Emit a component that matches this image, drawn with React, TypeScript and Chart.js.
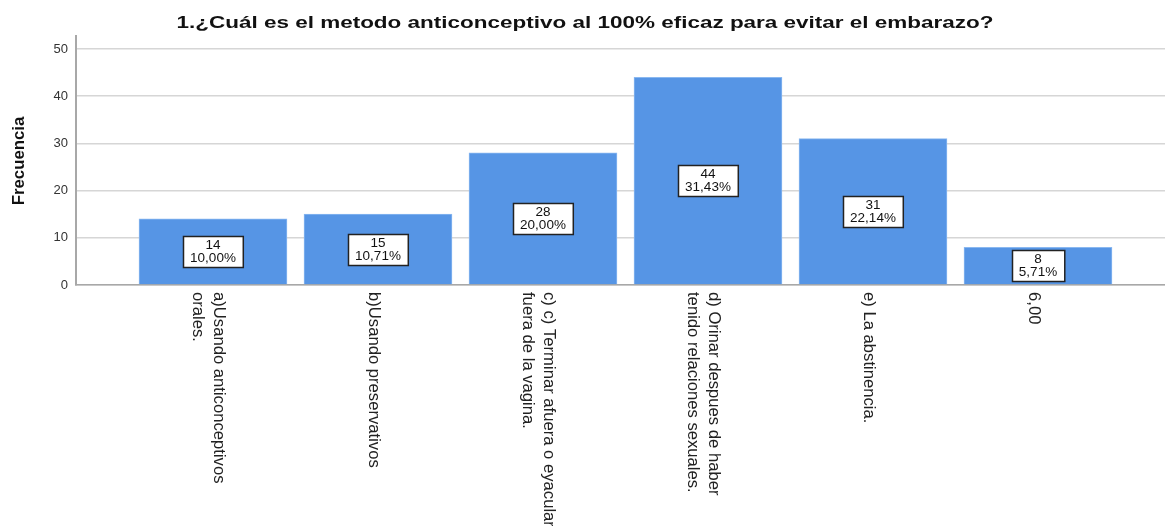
import React, { useEffect, useRef } from 'react';
import { Chart, registerables } from 'chart.js';

Chart.register(...registerables);

const chartTitle = '1.¿Cuál es el metodo anticonceptivo al 100% eficaz para evitar el embarazo?';
const yAxisTitle = 'Frecuencia';
const categories: string[][] = [
  ['a)Usando anticonceptivos', 'orales.'],
  ['b)Usando preservativos'],
  ['c) c) Terminar afuera o eyacular', 'fuera de la vagina.'],
  ['d) Orinar despues de haber', 'tenido relaciones sexuales.'],
  ['e) La abstinencia.'],
  ['6,00'],
];
const frequencies = [14, 15, 28, 44, 31, 8];
const percentLabels = ['10,00%', '10,71%', '20,00%', '31,43%', '22,14%', '5,71%'];
const yTickValues = [0, 10, 20, 30, 40, 50];

const FONT = '"Liberation Sans", Arial, sans-serif';

const overlayPlugin = {
  id: 'overlay',
  afterDraw(chart: any) {
    const ctx: CanvasRenderingContext2D = chart.ctx;
    const xs = chart.scales.x;
    const area = chart.chartArea;

    // Title
    ctx.save();
    ctx.fillStyle = '#111';
    ctx.font = `bold 17px ${FONT}`;
    ctx.textAlign = 'center';
    ctx.textBaseline = 'alphabetic';
    const tw = ctx.measureText(chartTitle).width;
    ctx.translate(585, 28);
    ctx.scale(817 / tw, 1);
    ctx.fillText(chartTitle, 0, 0);
    ctx.restore();

    // Y axis title
    ctx.save();
    ctx.fillStyle = '#111';
    ctx.font = `bold 16px ${FONT}`;
    ctx.textAlign = 'center';
    ctx.textBaseline = 'middle';
    ctx.translate(20, 161);
    ctx.rotate(-Math.PI / 2);
    ctx.scale(1.05, 1);
    ctx.fillText(yAxisTitle, 0, 0);
    ctx.restore();

    // X category labels (rotated clockwise)
    const lh = 21;
    categories.forEach((lines, i) => {
      const px = xs.getPixelForValue(i) - 5;
      ctx.save();
      ctx.fillStyle = '#222';
      ctx.font = `16px ${FONT}`;
      ctx.textAlign = 'left';
      ctx.textBaseline = 'middle';
      ctx.translate(px, area.bottom + 7);
      ctx.rotate(Math.PI / 2);
      ctx.scale(1.04, 1);
      const n = lines.length;
      lines.forEach((line, j) => {
        const ly = (j - (n - 1) / 2) * lh;
        ctx.fillText(line, 0, ly);
      });
      ctx.restore();
    });

    // Data labels
    const meta = chart.getDatasetMeta(0);
    meta.data.forEach((bar: any, i: number) => {
      const cx = bar.x;
      const cy = (bar.y + bar.base) / 2;
      const l1 = String(frequencies[i]);
      const l2 = percentLabels[i];
      ctx.save();
      ctx.font = `13.5px ${FONT}`;
      const w = Math.max(ctx.measureText(l1).width, ctx.measureText(l2).width) + 14;
      const h = 31;
      const bx = Math.round(cx - w / 2) + 0.5;
      const by = Math.round(cy - h / 2) + 0.5;
      ctx.fillStyle = '#ffffff';
      ctx.fillRect(bx, by, w, h);
      ctx.strokeStyle = '#222';
      ctx.lineWidth = 1.5;
      ctx.strokeRect(bx, by, w, h);
      ctx.fillStyle = '#111';
      ctx.textAlign = 'center';
      ctx.textBaseline = 'middle';
      ctx.fillText(l1, cx, cy - 6);
      ctx.fillText(l2, cx, cy + 7);
      ctx.restore();
    });
  },
};

export default function App() {
  const ref = useRef<HTMLCanvasElement | null>(null);

  useEffect(() => {
    document.body.style.margin = '0';
    const canvas = ref.current;
    if (!canvas) return;
    const chart = new Chart(canvas, {
      type: 'bar',
      data: {
        datasets: [
          {
            data: frequencies.map((v, i) => ({ x: i, y: v })),
            backgroundColor: '#5695E5',
            borderColor: '#8ab8f0',
            borderWidth: 1,
            barThickness: 148,
          },
        ],
      },
      options: {
        responsive: false,
        animation: false,
        devicePixelRatio: 1,
        layout: { padding: { top: 36, left: 0, right: 0, bottom: 0 } },
        plugins: {
          legend: { display: false },
          title: { display: false },
          tooltip: { enabled: false },
        },
        scales: {
          x: {
            type: 'linear',
            offset: false,
            min: -0.8303,
            max: 5.7697,
            ticks: { display: false },
            grid: { display: false, drawTicks: false, offset: false },
            border: { display: true, color: '#a8a8a8', width: 1.5 },
            afterFit: (scale: any) => {
              scale.height = 526 - 285;
            },
          },
          y: {
            type: 'linear',
            min: 0,
            max: 52.75,
            afterBuildTicks: (scale: any) => {
              scale.ticks = yTickValues.map((v) => ({ value: v }));
            },
            ticks: {
              padding: 8,
              color: '#333',
              font: { family: FONT, size: 13 },
            },
            grid: { color: '#d6d6d6', lineWidth: 1.5, drawTicks: false },
            border: { display: true, color: '#a8a8a8', width: 2 },
            afterFit: (scale: any) => {
              scale.width = 76;
            },
          },
        },
      },
      plugins: [overlayPlugin],
    });
    return () => chart.destroy();
  }, []);

  return <canvas ref={ref} width={1165} height={526} style={{ display: 'block' }} />;
}
